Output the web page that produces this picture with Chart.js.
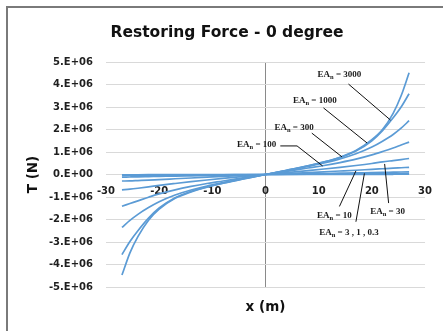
<!DOCTYPE html>
<html><head><meta charset="utf-8">
<script src="https://cdn.jsdelivr.net/npm/chart.js@4.4.0/dist/chart.umd.min.js"></script>
<style>
html,body{margin:0;padding:0;background:#fff;width:443px;height:331px;overflow:hidden}
#wrap{position:relative;width:443px;height:331px;overflow:hidden}
#frame{position:absolute;left:6px;top:6px;width:470px;height:370px;border-top:2px solid #7a7a7a;border-left:2px solid #7a7a7a;pointer-events:none;box-sizing:border-box}
canvas{position:absolute;left:0;top:0}
</style></head><body><div id="wrap"><canvas id="c" width="443" height="331"></canvas><div id="frame"></div></div>
<script>
// x (m)
const xValues = [-27,-25.5,-24,-22,-20,-17,-14,-11,-8,-4,0,4,8,11,14,17,20,22,24,25.5,27];
// T (MN) per EA_n
const ea3000 = [-4.47,-3.48,-2.76,-2.03,-1.54,-1.06,-0.77,-0.56,-0.39,-0.19,0,0.19,0.39,0.56,0.77,1.07,1.55,2.0,2.72,3.5,4.52];
const ea1000 = [-3.56,-2.98,-2.5,-1.94,-1.49,-1.03,-0.75,-0.55,-0.38,-0.19,0,0.19,0.38,0.55,0.75,1.04,1.5,1.95,2.52,3.0,3.59];
const ea300  = [-2.35,-2.04,-1.77,-1.47,-1.21,-0.91,-0.69,-0.51,-0.36,-0.17,0,0.17,0.36,0.51,0.69,0.92,1.22,1.48,1.78,2.06,2.39];
const ea100  = [-1.41,-1.29,-1.17,-1.01,-0.86,-0.68,-0.53,-0.40,-0.29,-0.14,0,0.14,0.29,0.40,0.53,0.68,0.87,1.02,1.18,1.31,1.44];
const ea30   = [-0.68,-0.65,-0.61,-0.55,-0.485,-0.40,-0.32,-0.245,-0.175,-0.085,0,0.085,0.175,0.245,0.32,0.40,0.49,0.56,0.62,0.665,0.71];
const ea10   = [-0.29,-0.285,-0.27,-0.25,-0.225,-0.19,-0.155,-0.121,-0.087,-0.043,0,0.043,0.087,0.121,0.155,0.19,0.23,0.255,0.28,0.30,0.32];
const ea3    = [-0.117,-0.11,-0.103,-0.094,-0.085,-0.071,-0.058,-0.045,-0.032,-0.016,0,0.016,0.032,0.045,0.058,0.071,0.085,0.094,0.103,0.11,0.117];
const ea1    = [-0.039,-0.036,-0.034,-0.031,-0.028,-0.024,-0.019,-0.015,-0.011,-0.0055,0,0.0055,0.011,0.015,0.019,0.024,0.028,0.031,0.034,0.036,0.039];
const ea03   = [-0.0115,-0.0107,-0.010,-0.0093,-0.0084,-0.007,-0.0057,-0.0045,-0.0033,-0.0017,0,0.0017,0.0033,0.0045,0.0057,0.007,0.0084,0.0093,0.010,0.0107,0.0115];
const seriesNames = ['3000','1000','300','100','30','10','3','1','0.3'];
const seriesValues = [ea3000, ea1000, ea300, ea100, ea30, ea10, ea3, ea1, ea03];

const xTickLabels = ['-30','-20','-10','0','10','20','30'];
const yTickLabels = ['-5.E+06','-4.E+06','-3.E+06','-2.E+06','-1.E+06','0.E+00','1.E+06','2.E+06','3.E+06','4.E+06','5.E+06'];
const chartTitle = 'Restoring Force - 0 degree';
const xTitle = 'x (m)';
const yTitle = 'T (N)';

// callout labels: text, label centre (data coords), pointer path (data coords)
const callouts = [
  {text:' = 3000', at:[13.9,4.42], path:[[15.6,4.02],[23.5,2.42]]},
  {text:' = 1000', at:[9.26,3.27], path:[[10.9,2.96],[19.1,1.4]]},
  {text:' = 300', at:[5.37,2.07], path:[[8.7,1.84],[14.4,0.78]]},
  {text:' = 100', at:[-1.67,1.31], path:[[2.78,1.27],[5.93,1.27],[10.74,0.38]]},
  {text:' = 10', at:[12.96,-1.84], path:[[13.9,-1.42],[17.0,0.16]]},
  {text:' = 30', at:[22.96,-1.67], path:[[23.15,-1.27],[22.4,0.47]]},
  {text:' = 3 , 1 , 0.3', at:[15.7,-2.6], path:[[17.0,-2.1],[18.6,0.05]]}
];

const tickFont = {family:'"DejaVu Sans"', weight:'bold', size:10};
const tickColor = '#1f1f1f';

const calloutPlugin = {
  id:'callouts',
  afterDatasetsDraw(chart){
    const {ctx, scales:{x, y}} = chart;
    ctx.save();
    ctx.strokeStyle = '#111'; ctx.lineWidth = 1;
    callouts.forEach(c => {
      ctx.beginPath();
      c.path.forEach((p,i) => {
        const px = x.getPixelForValue(p[0]), py = y.getPixelForValue(p[1]);
        if (i===0) ctx.moveTo(px,py); else ctx.lineTo(px,py);
      });
      ctx.stroke();
      const big = 'bold 9px "Liberation Serif"', small = 'bold 6.5px "Liberation Serif"';
      ctx.font = big; const w1 = ctx.measureText('EA').width; const w3 = ctx.measureText(c.text).width;
      ctx.font = small; const w2 = ctx.measureText('n').width;
      const cx = x.getPixelForValue(c.at[0]), cy = y.getPixelForValue(c.at[1]);
      let px = cx - (w1+w2+w3)/2;
      ctx.fillStyle = '#1a1a1a'; ctx.textBaseline = 'middle'; ctx.textAlign = 'left';
      ctx.font = big; ctx.fillText('EA', px, cy); px += w1;
      ctx.font = small; ctx.fillText('n', px, cy+2.5); px += w2;
      ctx.font = big; ctx.fillText(c.text, px, cy);
    });
    ctx.restore();
  },
  afterDraw(chart){
    const {ctx, chartArea} = chart;
    ctx.save();
    ctx.fillStyle = '#111'; ctx.textAlign = 'center'; ctx.textBaseline = 'middle';
    ctx.font = 'bold 13.5px "DejaVu Sans"';
    ctx.fillText(xTitle, (chartArea.left+chartArea.right)/2, 307);
    ctx.font = 'bold 15.5px "DejaVu Sans"';
    ctx.fillText(chartTitle, 227, 33);
    ctx.restore();
  }
};

new Chart(document.getElementById('c'), {
  type:'line',
  data:{
    datasets: seriesNames.map((n, k) => ({
      label:'EA_n = ' + n,
      data: xValues.map((xv, i) => ({x:xv, y:seriesValues[k][i]})),
      borderColor:'#5B9BD5', borderWidth:1.7, pointRadius:0, fill:false,
      cubicInterpolationMode:'monotone'
    }))
  },
  options:{
    responsive:false, animation:false, devicePixelRatio:1,
    layout:{padding:{top:62,right:13,bottom:44,left:0}},
    plugins:{ legend:{display:false}, tooltip:{enabled:false}, title:{display:false} },
    scales:{
      x:{type:'linear', position:{y:0}, min:-30, max:30,
        ticks:{stepSize:10, autoSkip:false, maxRotation:0, padding:11, font:tickFont, color:tickColor,
          callback:(v,i)=>xTickLabels[i]},
        grid:{drawTicks:false, lineWidth:1, color:c => (c.tick && c.tick.value===0) ? '#8a8a8a' : 'rgba(0,0,0,0)'},
        border:{display:false}},
      y:{type:'linear', position:'left', min:-5, max:5,
        ticks:{stepSize:1, padding:13, font:tickFont, color:tickColor, callback:(v,i)=>yTickLabels[i]},
        grid:{drawTicks:false, color:'#d9d9d9', lineWidth:1},
        border:{display:false},
        title:{display:true, text:yTitle, color:'#111', font:{family:'"DejaVu Sans"', weight:'bold', size:13.5}, padding:{top:25.6,bottom:0}},
        afterFit:s => { s.width = 106; }}
    }
  },
  plugins:[calloutPlugin]
});
</script></body></html>
